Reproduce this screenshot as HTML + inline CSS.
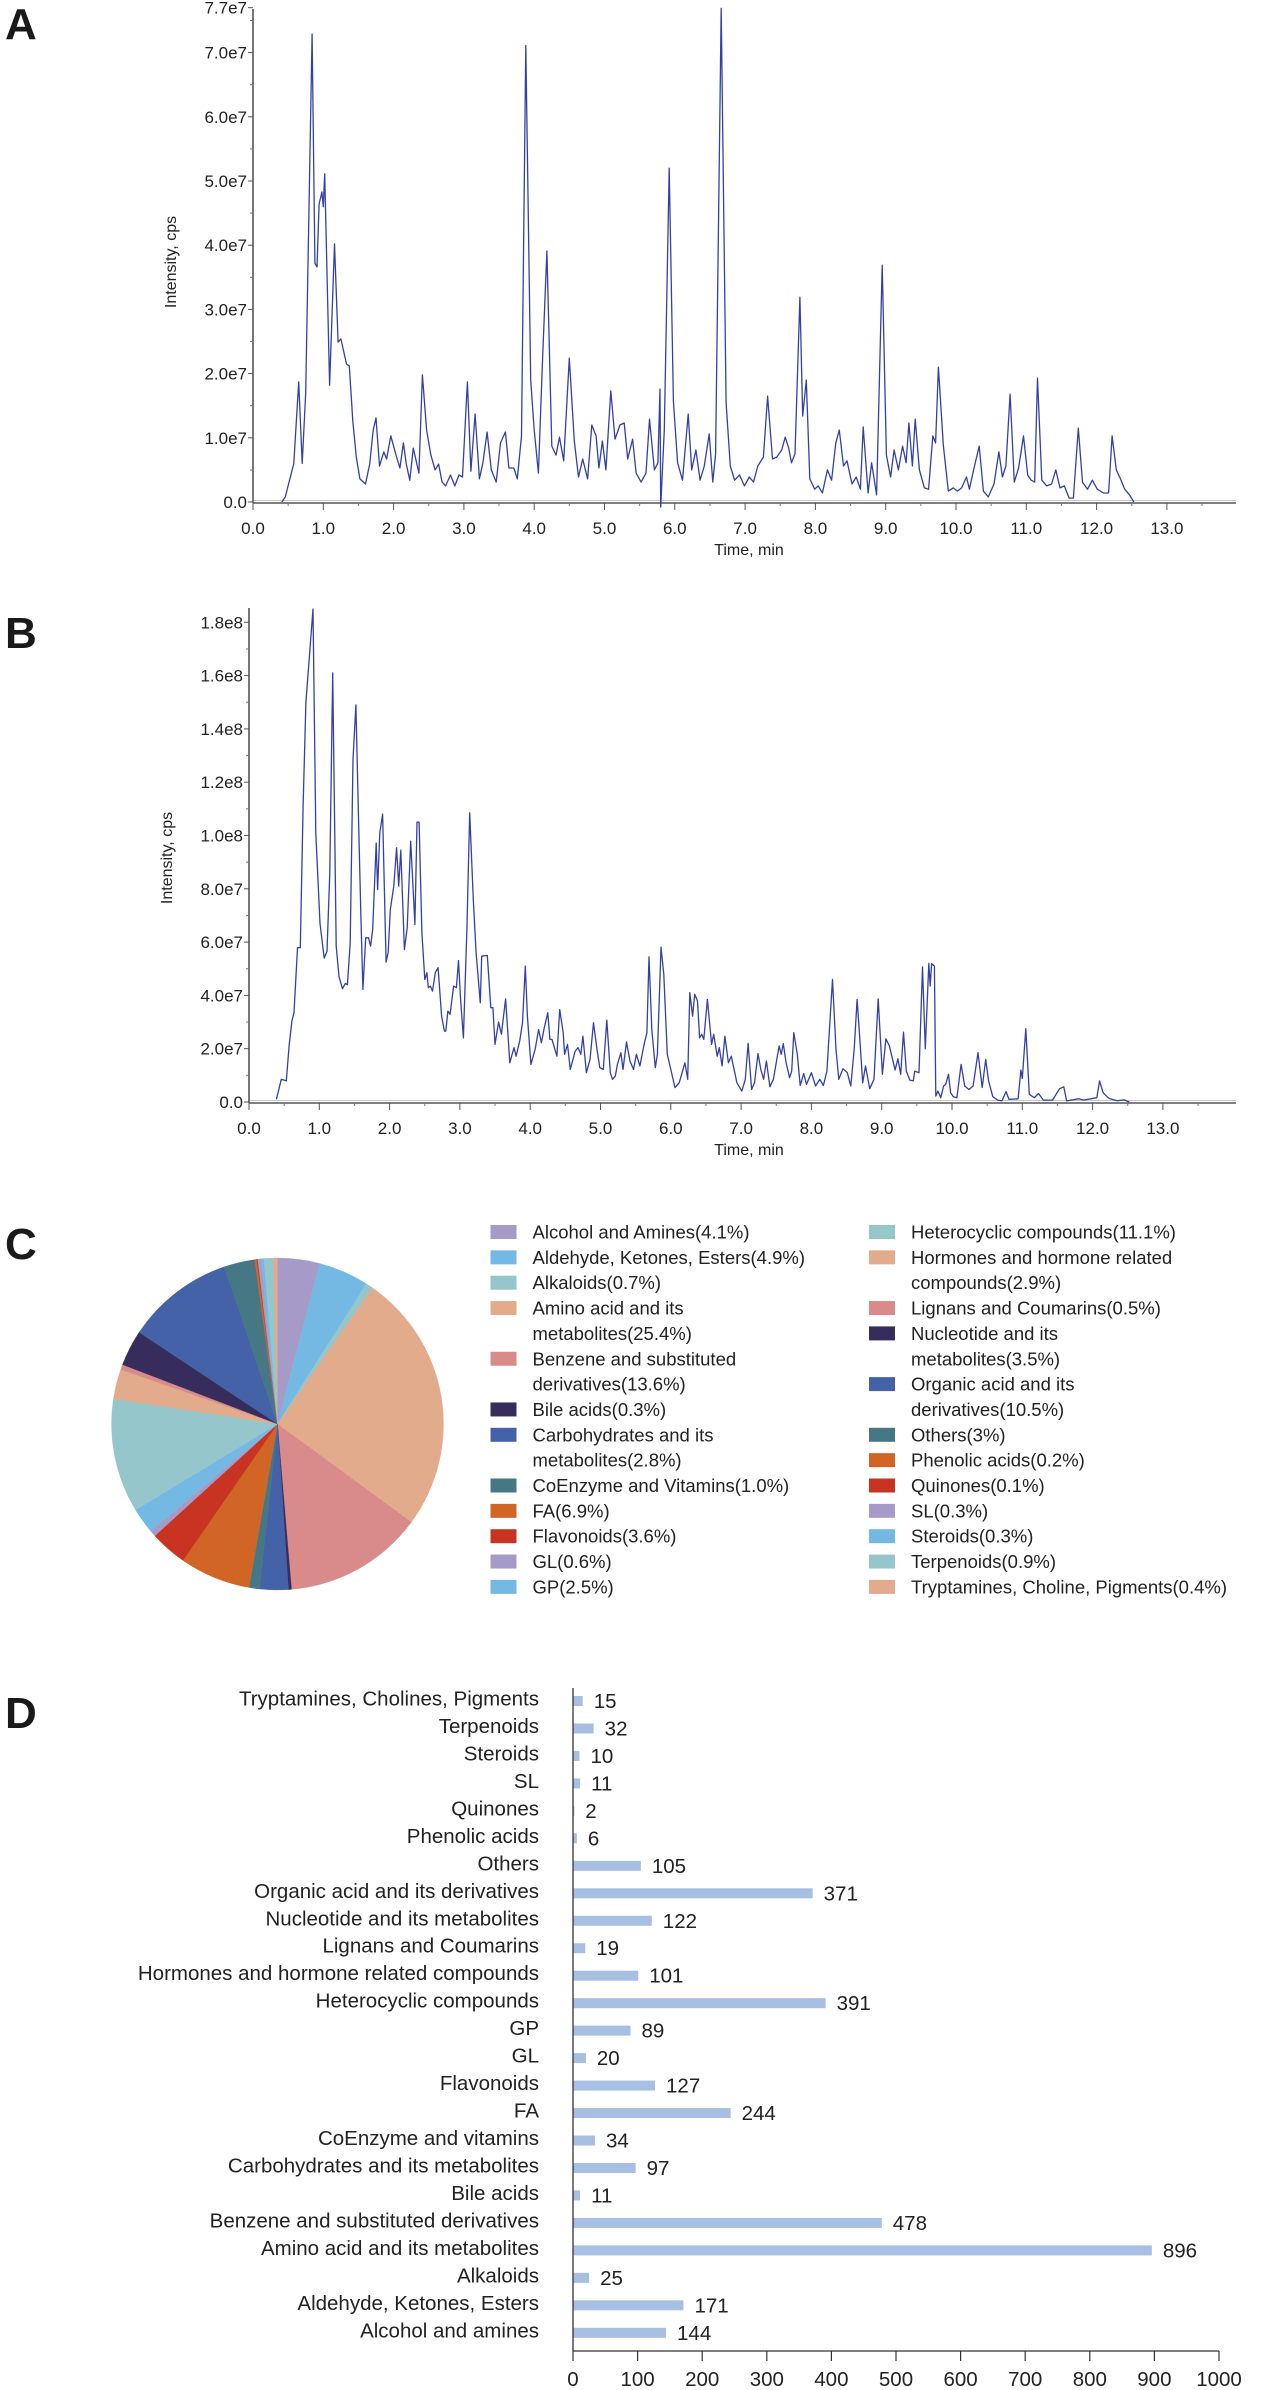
<!DOCTYPE html>
<html><head><meta charset="utf-8"><style>
html,body{margin:0;padding:0;background:#fff}
svg{display:block;font-family:"Liberation Sans",Arial,sans-serif}
</style></head><body>
<svg id="fig" width="1265" height="2390" viewBox="0 0 1265 2390" xmlns="http://www.w3.org/2000/svg">
<rect width="1265" height="2390" fill="#fff"/>
<text x="5" y="39" font-size="44" font-weight="bold" fill="#1a1a1a">A</text>
<text x="5" y="648" font-size="44" font-weight="bold" fill="#1a1a1a">B</text>
<text x="5" y="1259" font-size="44" font-weight="bold" fill="#1a1a1a">C</text>
<text x="5" y="1728" font-size="44" font-weight="bold" fill="#1a1a1a">D</text>
<g id="chartA"></g>
<g id="chartB"></g>
<g id="chartC"></g>
<g id="chartD"></g>
</svg>
<script>
// ---------- Panel A data (time min, intensity 1e7) ----------
const timesA=[0.41,0.46,0.58,0.65,0.70,0.75,0.84,0.88,0.91,0.94,0.98,1.0,1.02,1.09,1.16,1.21,1.25,1.33,1.37,1.42,1.47,1.52,1.60,1.66,1.71,1.75,1.80,1.86,1.90,1.96,2.03,2.09,2.14,2.18,2.23,2.28,2.36,2.41,2.47,2.53,2.59,2.64,2.69,2.74,2.81,2.87,2.93,2.98,3.05,3.10,3.16,3.22,3.27,3.33,3.39,3.46,3.52,3.59,3.64,3.71,3.76,3.82,3.88,3.95,4.0,4.06,4.12,4.18,4.25,4.31,4.36,4.42,4.50,4.57,4.63,4.69,4.76,4.82,4.88,4.92,4.97,5.02,5.09,5.15,5.22,5.28,5.33,5.40,5.45,5.52,5.59,5.64,5.71,5.76,5.79,5.80,5.85,5.92,5.98,6.04,6.11,6.19,6.24,6.30,6.36,6.42,6.49,6.54,6.58,6.66,6.73,6.79,6.85,6.92,6.99,7.06,7.12,7.18,7.26,7.32,7.39,7.45,7.52,7.57,7.62,7.66,7.71,7.78,7.82,7.87,7.92,7.99,8.04,8.10,8.17,8.23,8.29,8.34,8.40,8.45,8.52,8.58,8.64,8.68,8.75,8.80,8.87,8.95,9.01,9.07,9.12,9.18,9.24,9.29,9.33,9.38,9.42,9.48,9.55,9.61,9.67,9.71,9.75,9.82,9.89,9.96,10.02,10.08,10.15,10.19,10.25,10.33,10.39,10.46,10.54,10.61,10.66,10.71,10.77,10.83,10.89,10.96,11.02,11.07,11.12,11.16,11.22,11.29,11.36,11.42,11.48,11.54,11.61,11.67,11.74,11.80,11.87,11.94,12.01,12.10,12.17,12.22,12.28,12.34,12.40,12.47,12.53];
const valuesA=[0,0.08,0.6,1.87,0.6,1.7,7.29,3.72,3.66,4.64,4.83,4.6,5.11,1.82,4.02,2.49,2.54,2.15,2.12,1.26,0.7,0.36,0.28,0.59,1.12,1.31,0.56,0.78,0.67,1.03,0.75,0.53,0.92,0.59,0.34,0.84,0.45,1.98,1.12,0.73,0.5,0.59,0.31,0.25,0.42,0.25,0.42,0.39,1.87,0.48,1.37,0.36,0.61,1.09,0.5,0.31,0.92,1.09,0.53,0.53,0.36,1.03,7.11,1.9,1.12,0.45,2.24,3.91,0.87,0.73,1.01,0.64,2.24,0.95,0.39,0.67,0.36,1.2,1.03,0.53,0.95,0.5,1.73,0.98,1.2,1.23,0.67,0.98,0.45,0.31,0.45,1.29,0.5,0.61,1.76,-0.08,1.12,5.2,1.57,0.61,0.34,1.37,0.5,0.81,0.34,0.56,1.06,0.31,0.75,7.69,1.54,0.56,0.34,0.42,0.25,0.39,0.31,0.56,0.7,1.65,0.67,0.7,0.81,1.01,0.84,0.61,0.75,3.19,1.34,1.9,0.36,0.2,0.25,0.14,0.5,0.34,0.92,1.12,0.56,0.64,0.28,0.39,0.2,1.17,0.14,0.61,0.11,3.69,0.73,0.39,0.81,0.5,0.87,0.61,1.23,0.56,1.29,0.5,0.22,0.2,1.03,0.92,2.1,0.89,0.17,0.22,0.17,0.22,0.39,0.2,0.5,0.87,0.17,0.08,0.28,0.78,0.39,0.56,1.68,0.31,0.53,1.03,0.42,0.34,0.31,1.93,0.34,0.25,0.28,0.5,0.22,0.25,0.06,0.06,1.15,0.31,0.2,0.34,0.2,0.14,0.14,1.03,0.5,0.36,0.2,0.11,0];
const yTicksA=[0,1,2,3,4,5,6,7,7.7];
const yTickLabelsA=["0.0","1.0e7","2.0e7","3.0e7","4.0e7","5.0e7","6.0e7","7.0e7","7.7e7"];
// ---------- Panel B data (time min, intensity 1e7) ----------
const timesB=[0.39,0.46,0.53,0.57,0.61,0.64,0.69,0.73,0.77,0.81,0.91,0.95,1.01,1.07,1.11,1.15,1.19,1.24,1.28,1.33,1.37,1.40,1.44,1.48,1.52,1.56,1.59,1.62,1.66,1.70,1.73,1.76,1.81,1.83,1.86,1.90,1.95,1.98,2.01,2.06,2.10,2.13,2.16,2.21,2.25,2.30,2.36,2.39,2.42,2.46,2.50,2.53,2.55,2.58,2.61,2.65,2.69,2.74,2.78,2.80,2.83,2.86,2.91,2.95,2.98,3.01,3.05,3.10,3.14,3.19,3.23,3.29,3.31,3.39,3.44,3.47,3.50,3.55,3.59,3.65,3.71,3.77,3.80,3.85,3.89,3.93,3.96,4.01,4.07,4.12,4.16,4.20,4.25,4.28,4.31,4.38,4.42,4.47,4.49,4.53,4.57,4.64,4.68,4.72,4.75,4.80,4.85,4.90,4.95,4.99,5.04,5.09,5.14,5.17,5.21,5.24,5.29,5.32,5.37,5.42,5.47,5.51,5.56,5.62,5.66,5.69,5.73,5.78,5.81,5.86,5.90,5.95,6.00,6.06,6.12,6.20,6.24,6.27,6.31,6.34,6.38,6.41,6.44,6.47,6.52,6.58,6.61,6.66,6.69,6.73,6.77,6.82,6.86,6.94,7.01,7.06,7.10,7.15,7.19,7.24,7.28,7.32,7.36,7.41,7.46,7.54,7.57,7.60,7.64,7.69,7.72,7.75,7.80,7.84,7.89,7.93,8.00,8.06,8.12,8.17,8.22,8.30,8.35,8.39,8.45,8.51,8.56,8.61,8.65,8.67,8.73,8.77,8.83,8.89,8.95,9.01,9.06,9.11,9.19,9.23,9.27,9.31,9.35,9.40,9.45,9.47,9.53,9.58,9.62,9.67,9.69,9.71,9.75,9.77,9.80,9.84,9.88,9.91,9.95,9.98,10.02,10.07,10.13,10.18,10.24,10.30,10.37,10.43,10.48,10.52,10.58,10.65,10.71,10.77,10.81,10.94,10.98,11.00,11.05,11.10,11.17,11.23,11.30,11.43,11.53,11.59,11.63,11.80,11.87,12.06,12.10,12.15,12.22,12.25,12.35,12.45,12.52];
const valuesB=[0.1,0.85,0.79,2.1,3.04,3.35,5.79,5.79,11.1,15,18.5,10.1,6.7,5.4,5.66,8.6,16.1,5.85,4.7,4.25,4.45,4.4,5.97,12.85,14.9,10.35,7.1,4.22,6.16,6.16,5.85,6.48,9.72,7.97,10.1,10.8,5.25,5.62,7.22,8.1,9.54,8.1,9.45,5.72,6.54,9.79,6.66,10.5,10.5,6.35,4.6,4.85,4.29,4.35,4.16,4.85,5.04,3.22,2.66,2.66,3.41,3.29,4.35,4.29,5.31,3.85,2.41,6.48,10.85,7.6,5.6,3.72,5.47,5.5,3.54,3.54,2.16,3.0,2.54,3.87,1.47,2.04,1.72,2.29,2.97,5.1,3.22,1.41,1.97,2.72,2.22,2.79,3.35,2.35,2.35,1.72,3.47,2.6,1.79,2.16,1.22,1.91,2.04,1.79,2.47,1.1,1.6,2.97,1.97,1.29,1.22,3.07,1.1,0.85,0.97,1.41,1.85,1.22,2.25,1.54,1.22,1.79,1.35,2.16,2.6,5.45,2.72,1.29,1.79,5.81,4.79,1.79,1.22,0.54,0.72,1.47,0.85,4.1,3.22,4.04,3.79,2.41,2.54,2.35,3.85,2.16,2.54,1.72,2.04,1.35,2.47,1.47,1.72,0.72,0.41,0.85,2.2,0.47,0.72,1.82,1.22,0.85,1.54,0.57,0.85,2.1,1.79,2.19,1.47,0.91,1.16,2.6,1.79,0.62,1.07,0.66,1.1,0.6,0.85,0.62,1.16,4.6,1.97,0.85,1.25,1.1,0.6,2.04,3.85,3.1,0.72,1.35,0.5,0.85,3.87,1.04,2.37,2.1,1.2,1.62,1.04,2.62,1.16,0.82,0.79,1.16,1.1,5.07,2.0,5.2,4.35,5.19,5.1,0.22,0.41,0.16,0.6,0.66,1.04,0.35,0.2,0.16,1.41,0.6,0.47,0.6,1.85,0.54,1.6,0.79,0.2,0.07,0.04,0.39,0.1,0.12,1.2,0.88,2.75,0.29,0.16,0.32,0.07,0.07,0.5,0.57,0.04,0.12,0.07,0.16,0.79,0.35,0.16,0.12,0.05,0.08,0];
const yTicksB=[0,2,4,6,8,10,12,14,16,18];
const yTickLabelsB=["0.0","2.0e7","4.0e7","6.0e7","8.0e7","1.0e8","1.2e8","1.4e8","1.6e8","1.8e8"];
const xTicks=[0,1,2,3,4,5,6,7,8,9,10,11,12,13];
const xTickLabels=["0.0","1.0","2.0","3.0","4.0","5.0","6.0","7.0","8.0","9.0","10.0","11.0","12.0","13.0"];
// ---------- Panel C data ----------
const pieLabels=["Alcohol and Amines(4.1%)","Aldehyde, Ketones, Esters(4.9%)","Alkaloids(0.7%)","Amino acid and its\nmetabolites(25.4%)","Benzene and substituted\nderivatives(13.6%)","Bile acids(0.3%)","Carbohydrates and its\nmetabolites(2.8%)","CoEnzyme and Vitamins(1.0%)","FA(6.9%)","Flavonoids(3.6%)","GL(0.6%)","GP(2.5%)","Heterocyclic compounds(11.1%)","Hormones and hormone related\ncompounds(2.9%)","Lignans and Coumarins(0.5%)","Nucleotide and its\nmetabolites(3.5%)","Organic acid and its\nderivatives(10.5%)","Others(3%)","Phenolic acids(0.2%)","Quinones(0.1%)","SL(0.3%)","Steroids(0.3%)","Terpenoids(0.9%)","Tryptamines, Choline, Pigments(0.4%)"];
const pieValues=[4.1,4.9,0.7,25.4,13.6,0.3,2.8,1.0,6.9,3.6,0.6,2.5,11.1,2.9,0.5,3.5,10.5,3,0.2,0.1,0.3,0.3,0.9,0.4];
const pieColors=["#a69bc8","#74b9e3","#95c6cc","#e2ab8b","#d98b8b","#362d5c","#4462a8","#457884","#d06525","#c93322","#a69bc8","#74b9e3","#95c6cc","#e2ab8b","#d98b8b","#362d5c","#4462a8","#457884","#d06525","#c93322","#a69bc8","#74b9e3","#95c6cc","#e2ab8b"];
// ---------- Panel D data ----------
const barCategories=["Tryptamines, Cholines, Pigments","Terpenoids","Steroids","SL","Quinones","Phenolic acids","Others","Organic acid and its derivatives","Nucleotide and its metabolites","Lignans and Coumarins","Hormones and hormone related compounds","Heterocyclic compounds","GP","GL","Flavonoids","FA","CoEnzyme and vitamins","Carbohydrates and its metabolites","Bile acids","Benzene and substituted derivatives","Amino acid and its metabolites","Alkaloids","Aldehyde, Ketones, Esters","Alcohol and amines"];
const barValues=[15,32,10,11,2,6,105,371,122,19,101,391,89,20,127,244,34,97,11,478,896,25,171,144];
const barTicks=[0,100,200,300,400,500,600,700,800,900,1000];

const NS="http://www.w3.org/2000/svg";
function mk(tag,attrs,parent,text){const e=document.createElementNS(NS,tag);for(const k in attrs)e.setAttribute(k,attrs[k]);if(text!==undefined)e.textContent=text;parent.appendChild(e);return e;}

function chromatogram(g,times,vals,yt,ytl,cfg){
  const xs=t=>cfg.x0+t*cfg.px;
  const ys=v=>cfg.y0-v*cfg.py;
  let l=mk('line',{x1:cfg.x0,x2:cfg.xEnd,y1:cfg.y0-1.5,y2:cfg.y0-1.5,stroke:'#c8c8c8','stroke-width':1},g);
  
  
  let ax=mk('line',{x1:cfg.x0,x2:cfg.x0,y1:cfg.yTop,y2:cfg.y0+1,stroke:'#555','stroke-width':1.6},g);
  
  
  let bx=mk('line',{x1:cfg.x0,x2:cfg.xEnd,y1:cfg.y0+1,y2:cfg.y0+1,stroke:'#555','stroke-width':1.6},g);
  
  
  for(let i=0;i<yt.length;i++){
    const y=ys(yt[i]);
    mk('line',{x1:cfg.x0-5,x2:cfg.x0,y1:y,y2:y,stroke:'#555','stroke-width':1},g);
    const t=mk('text',{x:cfg.x0-6,y:y+6,'font-size':17,'text-anchor':'end',fill:'#222'},g,ytl[i]);
    
    
  }
  for(let v=cfg.minorStep;v<yt[yt.length-1];v+=cfg.minorStep*2){
    const y=ys(v);mk('line',{x1:cfg.x0-3,x2:cfg.x0,y1:y,y2:y,stroke:'#777','stroke-width':1},g);
  }
  for(let i=0;i<xTicks.length;i++){
    const x=xs(xTicks[i]);
    mk('line',{x1:x,x2:x,y1:cfg.y0+1,y2:cfg.y0+8,stroke:'#555','stroke-width':1},g);
    mk('line',{x1:x+cfg.px/2,x2:x+cfg.px/2,y1:cfg.y0+1,y2:cfg.y0+4,stroke:'#777','stroke-width':1},g);
    const t=mk('text',{x:x,y:cfg.y0+32,'font-size':17,'text-anchor':'middle',fill:'#222'},g,xTickLabels[i]);
    
    
  }
  const xt=mk('text',{x:749,y:cfg.y0+53,'font-size':16,'text-anchor':'middle',fill:'#222'},g,'Time, min');
  
  
  const yT=mk('text',{x:0,y:0,'font-size':16,'text-anchor':'middle',fill:'#222',transform:`translate(${cfg.x0-77},${cfg.yMid}) rotate(-90)`},g,'Intensity, cps');
  
  
  let d='';
  for(let i=0;i<times.length;i++){d+=(i?'L':'M')+xs(times[i]).toFixed(1)+' '+ys(vals[i]).toFixed(1);}
  const p=mk('path',{d:d,fill:'none',stroke:'#3341a3','stroke-width':1.3,'stroke-linejoin':'round'},g);
  
  
}
chromatogram(document.getElementById('chartA'),timesA,valuesA,yTicksA,yTickLabelsA,{x0:253,px:70.3,y0:502,py:64.2,yTop:9,xEnd:1236,minorStep:0.5,yMid:262});
chromatogram(document.getElementById('chartB'),timesB,valuesB,yTicksB,yTickLabelsB,{x0:249,px:70.3,y0:1102,py:26.65,yTop:608,xEnd:1236,minorStep:1,yMid:858});

// ---------- Pie ----------
(function(){
  const g=document.getElementById('chartC');
  const cx=277.5,cy=1424,r=166;
  const total=pieValues.reduce((a,b)=>a+b,0);
  let a0=0;
  for(let i=0;i<pieValues.length;i++){
    const a1=a0+pieValues[i]/total*2*Math.PI;
    const p0=[cx+r*Math.sin(a0),cy-r*Math.cos(a0)],p1=[cx+r*Math.sin(a1),cy-r*Math.cos(a1)];
    const large=(a1-a0)>Math.PI?1:0;
    const s=mk('path',{d:`M${cx} ${cy}L${p0[0].toFixed(2)} ${p0[1].toFixed(2)}A${r} ${r} 0 ${large} 1 ${p1[0].toFixed(2)} ${p1[1].toFixed(2)}Z`,fill:pieColors[i],stroke:pieColors[i],'stroke-width':0.3},g);
    
    
    a0=a1;
  }
  const colX=[490.5,869],y0=1232,lh=25.35;
  let col=0,line=0;
  for(let i=0;i<pieLabels.length;i++){
    if(i===12){col=1;line=0;}
    const lines=pieLabels[i].split('\n');
    const y=y0+line*lh;
    const sw=mk('rect',{x:colX[col],y:y-7,width:26,height:14,fill:pieColors[i]},g);
    
    
    lines.forEach((ln,k)=>{
      const t=mk('text',{x:colX[col]+42,y:y+k*lh+6.5,'font-size':18.5,fill:'#222'},g,ln);
      
      
    });
    line+=lines.length;
  }
})();

// ---------- Bars ----------
(function(){
  const g=document.getElementById('chartD');
  const x0=573,px=0.646,yFirst=1701,step=27.47,axisY=2351;
  const xs=v=>x0+v*px;
  for(let i=0;i<barCategories.length;i++){
    const yc=yFirst+i*step;
    const b=mk('rect',{x:x0,y:yc-5,width:Math.max(0,xs(barValues[i])-x0),height:10,fill:'#a6bfe2'},g);
    
    
    const lab=mk('text',{x:539,y:yc+4.5,'font-size':20.5,'text-anchor':'end',fill:'#222'},g,barCategories[i]);
    
    
    const v=mk('text',{x:xs(barValues[i])+11,y:yc+7,'font-size':20.5,fill:'#222'},g,String(barValues[i]));
    
    
  }
  const ya=mk('line',{x1:x0,x2:x0,y1:1688,y2:axisY,stroke:'#333','stroke-width':1.3},g);
  
  
  const xa=mk('line',{x1:x0,x2:xs(1000),y1:axisY,y2:axisY,stroke:'#333','stroke-width':1.3},g);
  
  
  for(const t of barTicks){
    mk('line',{x1:xs(t),x2:xs(t),y1:axisY,y2:axisY+10,stroke:'#333','stroke-width':1.2},g);
    const tl=mk('text',{x:xs(t),y:2386,'font-size':20.5,'text-anchor':'middle',fill:'#222'},g,String(t));
    
    
  }
})();
</script>
</body></html>
